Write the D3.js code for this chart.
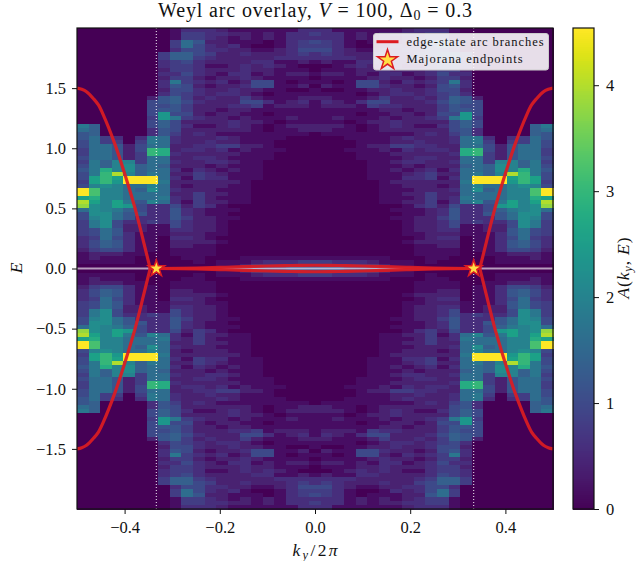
<!DOCTYPE html>
<html>
<head>
<meta charset="utf-8">
<script src="https://d3js.org/d3.v7.min.js"></script>
<style>
  html, body { margin: 0; padding: 0; background: white; }
  svg { display: block; }
  svg text { font-family: 'Liberation Serif', serif; fill: #111; }
  .axis path, .axis line { stroke: #111; }
  .axis text { font-size: 16.5px; }
</style>
</head>
<body>
<svg id="chart" width="636" height="561">
  <defs>
    <filter id="soft" x="0" y="0" width="100%" height="100%"><feGaussianBlur stdDeviation="0.45"/></filter>
  </defs>
</svg>
<script>
// spectral weight, upper left quadrant: one string per ky column, E from top down to 0
// each character is a base-36 level, A = level * levelStep. The other quadrants are mirror images
const levelStep = 0.2;
const colLevels = [
  "000000000000000000000000" + "98" + "6" + "655" + "4454" + "5655" + "45" + "nn" + "d" + "kj" + "8" + "55444" + "43332" + "1110",
  "000000000000000000000000" + "777" + "888888" + "9999" + "dd" + "a" + "gg" + "ed" + "bbb" + "a99" + "554" + "554" + "2210",
  "000000000000000000000000000" + "44" + "8888" + "77" + "efff" + "b" + "aaaaaa" + "bbbb" + "88877" + "5" + "2110",
  "000000000000000000000000000" + "34" + "6666" + "aaa" + "k" + "dc" + "aaaa" + "dd" + "988" + "55665" + "665" + "2110",
  "00000000000000000000000000000" + "2222" + "abba" + "nn" + "88889" + "c" + "766" + "322" + "33333" + "1110",
  "000000000000000000000000000" + "34" + "5544" + "4" + "777" + "nn" + "8788" + "6556" + "3322" + "111111000",
  "00000000000000000" + "2" + "555" + "5455" + "33" + "998" + "ff" + "88889" + "nn" + "a" + "b" + "88a" + "3333" + "4" + "1111111" + "0000",
  "000000" + "443" + "3232" + "3323" + "6656" + "cc" + "7766" + "888" + "ee" + "88788" + "89" + "88898" + "33333" + "1110000" + "0000",
  "1" + "11" + "443" + "77" + "44434" + "9" + "655" + "7766" + "5" + "9" + "5554" + "332232" + "32323223233" + "5" + "66655" + "32322" + "11000",
  "3" + "44" + "88" + "5" + "77" + "54454" + "4554454454" + "2322" + "222322" + "22121212" + "2212" + "33433" + "32322" + "11100",
  "3446555433" + "3323233232" + "2232123223" + "3232234422" + "2444422222" + "2222111110",
  "3332334321" + "2212122322" + "2122122233" + "2233123322" + "2222311222" + "2112111000",
  "2322232221" + "2123223222" + "1222221324" + "3223212322" + "1212111111" + "1101000011",
  "1211322222" + "2321233223" + "2213321224" + "1212121121" + "1111010100" + "0000000011",
  "1221123223" + "3332322453" + "2122221112" + "2111111111" + "1111000000" + "0000000112",
  "1111012232" + "2125521254" + "1112111112" + "1111111100" + "0000000000" + "0000000124",
  "1220012233" + "2215510131" + "1011001111" + "1110000000" + "0000000000" + "0000000134",
  "1111122312" + "1111111112" + "1110111100" + "1000000000" + "0000000000" + "0000000134",
  "1333333311" + "1210101122" + "1121211000" + "0000000000" + "0000000000" + "0000000135",
  "3334454320" + "1211201232" + "1111221000" + "0000000000" + "0000000000" + "0000000145",
  "3435453310" + "0101011211" + "1111220000" + "0000000000" + "0000000000" + "0000000145"
];

// edge-state arc for the left side
const arcK = [-0.5, -0.49, -0.48, -0.465, -0.455, -0.445, -0.42, -0.4, -0.378, -0.36, -0.35, -0.3462];
const arcE = [1.5, 1.49, 1.47, 1.41, 1.36, 1.28, 1.03, 0.79, 0.5, 0.22, 0.06, 0];
// the thin lens between the two endpoints
const lensK = [-0.3462, -0.3333, -0.25, -0.2, -0.15, -0.1, -0.05, 0];
const lensE = [0, 0, 0.004, 0.009, 0.015, 0.021, 0.025, 0.027];

const endpoints = [-1 / 3, 1 / 3];
const xTicks = [-0.4, -0.2, 0, 0.2, 0.4];
const yTicks = [-1.5, -1, -0.5, 0, 0.5, 1, 1.5];
const cbarTicks = [0, 1, 2, 3, 4];
const cbarMax = 4.54;

const left = 77, right = 553, top_ = 28, bottom = 509;
const cbLeft = 573, cbRight = 594;

const svg = d3.select('#chart');
const x = d3.scaleLinear().domain([-0.5, 0.5]).range([left, right]);
const y = d3.scaleLinear().domain([-2, 2]).range([bottom, top_]);
const color = d3.scaleSequential(d3.interpolateViridis).domain([0, cbarMax]);

const nCols = colLevels.length * 2 - 1;
const nRows = colLevels[0].length * 2;
const colEdge = d3.scaleLinear().domain([0, nCols]).range([-0.5, 0.5]);
const rowEdge = d3.scaleLinear().domain([0, nRows]).range([2, -2]);

// expand the quadrant to all four corners
const cells = [];
for (let c = 0; c < nCols; c++) {
  const col = colLevels[c < colLevels.length ? c : nCols - 1 - c];
  for (let r = 0; r < nRows; r++) {
    const ch = col[r < col.length ? r : nRows - 1 - r];
    cells.push({ c: c, r: r, a: parseInt(ch, 36) * levelStep });
  }
}

svg.append('g')
  .attr('filter', 'url(#soft)')
  .attr('shape-rendering', 'crispEdges')
  .selectAll('rect')
  .data(cells)
  .join('rect')
  .attr('x', d => x(colEdge(d.c)))
  .attr('y', d => y(rowEdge(d.r)))
  .attr('width', d => x(colEdge(d.c + 1)) - x(colEdge(d.c)) + 0.5)
  .attr('height', d => y(rowEdge(d.r + 1)) - y(rowEdge(d.r)) + 0.5)
  .attr('fill', d => color(d.a));

// dotted endpoint guides and the E = 0 line
svg.selectAll('.guide')
  .data(endpoints)
  .join('line')
  .attr('class', 'guide')
  .attr('x1', d => x(d)).attr('x2', d => x(d))
  .attr('y1', top_).attr('y2', bottom)
  .attr('stroke', 'white')
  .attr('stroke-opacity', 0.85)
  .attr('stroke-width', 1.1)
  .attr('stroke-dasharray', '1.1 1.9');

svg.append('line')
  .attr('x1', left).attr('x2', right)
  .attr('y1', y(0)).attr('y2', y(0))
  .attr('stroke', 'white')
  .attr('stroke-opacity', 0.62)
  .attr('stroke-width', 2);

// arc branches, outer and inner on each side, above and below E = 0
const red = '#dc1c22';
const line = d3.line().x(d => x(d[0])).y(d => y(d[1])).curve(d3.curveCatmullRom);
const arcPts = arcK.map((k, i) => [k, arcE[i]]);
const lensPts = lensK.map((k, i) => [k, lensE[i]]);
[1, -1].forEach(sx => [1, -1].forEach(sy => {
  const flip = p => [sx * p[0], sy * p[1]];
  [arcPts, lensPts].forEach(pts => {
    svg.append('path')
      .datum(pts.map(flip))
      .attr('d', line)
      .attr('fill', 'none')
      .attr('stroke', red)
      .attr('stroke-opacity', 0.92)
      .attr('stroke-width', 3.2);
  });
}));

// endpoint stars
const star = d3.symbol().type(d3.symbolStar);
svg.selectAll('.star')
  .data(endpoints)
  .join('path')
  .attr('class', 'star')
  .attr('transform', d => 'translate(' + x(d) + ',' + y(0) + ')')
  .attr('d', star.size(85))
  .attr('fill', '#ffdf45')
  .attr('stroke', red)
  .attr('stroke-width', 1.5);

// frame and axes
svg.append('rect')
  .attr('x', left).attr('y', top_)
  .attr('width', right - left).attr('height', bottom - top_)
  .attr('fill', 'none').attr('stroke', '#111').attr('stroke-width', 1.2);

function minus(s) { return s.replace('-', '\u2212'); }

const xAxis = svg.append('g').attr('class', 'axis')
  .attr('transform', 'translate(0,' + bottom + ')')
  .call(d3.axisBottom(x).tickValues(xTicks).tickSize(5).tickPadding(7)
    .tickFormat(d => minus(d3.format('.1f')(d))));
xAxis.select('.domain').remove();

const yAxis = svg.append('g').attr('class', 'axis')
  .attr('transform', 'translate(' + left + ',0)')
  .call(d3.axisLeft(y).tickValues(yTicks).tickSize(5).tickPadding(6)
    .tickFormat(d => minus(d3.format('.1f')(d))));
yAxis.select('.domain').remove();

// title with math parts
const title = svg.append('text')
  .attr('x', 315).attr('y', 17)
  .attr('text-anchor', 'middle')
  .attr('textLength', 314).attr('lengthAdjust', 'spacing')
  .style('font-size', '20px');
title.append('tspan').text('Weyl arc overlay, ');
title.append('tspan').attr('font-style', 'italic').text('V');
title.append('tspan').text(' = 100, \u0394');
title.append('tspan').attr('dy', 3).style('font-size', '14px').text('0');
title.append('tspan').attr('dy', -3).text(' = 0.3');

// x label
const xLabel = svg.append('text')
  .attr('x', 315).attr('y', 556)
  .attr('text-anchor', 'middle')
  .attr('textLength', 45).attr('lengthAdjust', 'spacing')
  .style('font-size', '17.5px');
xLabel.append('tspan').attr('font-style', 'italic').text('k');
xLabel.append('tspan').attr('dy', 3).attr('font-style', 'italic').style('font-size', '12.5px').text('y');
xLabel.append('tspan').attr('dy', -3).text('/2');
xLabel.append('tspan').attr('font-style', 'italic').text('\u03c0');

// y label
svg.append('text')
  .attr('transform', 'translate(22,268) rotate(-90)')
  .attr('text-anchor', 'middle')
  .attr('font-style', 'italic')
  .style('font-size', '17.5px')
  .text('E');

// colorbar
const cbY = d3.scaleLinear().domain([0, cbarMax]).range([bottom, top_]);
const cbStep = cbarMax / 240;
const cbSteps = d3.range(1, 241).map(i => i * cbStep);
svg.append('g')
  .attr('shape-rendering', 'crispEdges')
  .selectAll('rect')
  .data(cbSteps)
  .join('rect')
  .attr('x', cbLeft)
  .attr('y', d => cbY(d))
  .attr('width', cbRight - cbLeft)
  .attr('height', d => cbY(d - cbStep) - cbY(d) + 0.5)
  .attr('fill', d => color(d));
svg.append('rect')
  .attr('x', cbLeft).attr('y', top_)
  .attr('width', cbRight - cbLeft).attr('height', bottom - top_)
  .attr('fill', 'none').attr('stroke', '#111').attr('stroke-width', 1.2);
const cbAxis = svg.append('g').attr('class', 'axis')
  .attr('transform', 'translate(' + cbRight + ',0)')
  .call(d3.axisRight(cbY).tickValues(cbarTicks).tickSize(5).tickPadding(7).tickFormat(d3.format('d')));
cbAxis.select('.domain').remove();

const cbLabel = svg.append('text')
  .attr('transform', 'translate(629,268) rotate(-90)')
  .attr('text-anchor', 'middle')
  .attr('textLength', 61).attr('lengthAdjust', 'spacing')
  .style('font-size', '17.5px');
cbLabel.append('tspan').attr('font-style', 'italic').text('A');
cbLabel.append('tspan').text('(');
cbLabel.append('tspan').attr('font-style', 'italic').text('k');
cbLabel.append('tspan').attr('dy', 3).attr('font-style', 'italic').style('font-size', '12.5px').text('y');
cbLabel.append('tspan').attr('dy', -3).text(', ');
cbLabel.append('tspan').attr('font-style', 'italic').text('E');
cbLabel.append('tspan').text(')');

// legend
const legend = svg.append('g');
legend.append('rect')
  .attr('x', 373.5).attr('y', 33.5)
  .attr('width', 175).attr('height', 36.5)
  .attr('rx', 2.5)
  .attr('fill', 'white').attr('fill-opacity', 0.87)
  .attr('stroke', '#ccc').attr('stroke-width', 1);
legend.append('line')
  .attr('x1', 376.5).attr('x2', 398.5)
  .attr('y1', 41.7).attr('y2', 41.7)
  .attr('stroke', red).attr('stroke-width', 3);
legend.append('path')
  .attr('transform', 'translate(387.5,60)')
  .attr('d', d3.symbol().type(d3.symbolStar).size(125)())
  .attr('fill', '#ffdf45')
  .attr('stroke', red)
  .attr('stroke-width', 1.5);
legend.append('text')
  .attr('x', 406.5).attr('y', 45.5)
  .attr('textLength', 137).attr('lengthAdjust', 'spacing')
  .style('font-size', '12.5px')
  .text('edge-state arc branches');
legend.append('text')
  .attr('x', 406.5).attr('y', 62.5)
  .attr('textLength', 116).attr('lengthAdjust', 'spacing')
  .style('font-size', '12.5px')
  .text('Majorana endpoints');
</script>
</body>
</html>
